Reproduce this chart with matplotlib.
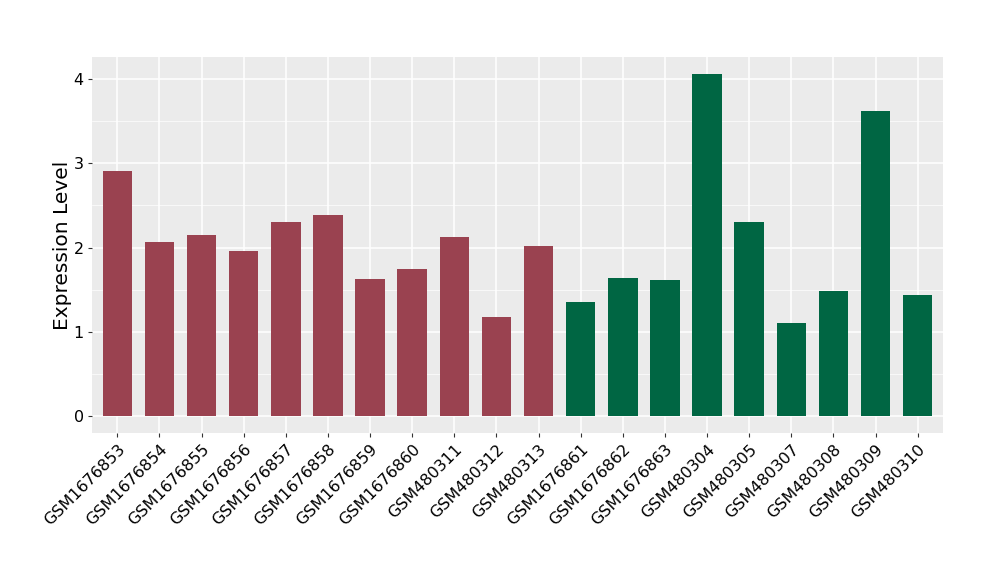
import numpy as np
import matplotlib
matplotlib.use("Agg")
import matplotlib.pyplot as plt

samples = ["GSM1676853", "GSM1676854", "GSM1676855", "GSM1676856", "GSM1676857",
           "GSM1676858", "GSM1676859", "GSM1676860", "GSM480311", "GSM480312",
           "GSM480313", "GSM1676861", "GSM1676862", "GSM1676863", "GSM480304",
           "GSM480305", "GSM480307", "GSM480308", "GSM480309", "GSM480310"]
values = [2.91, 2.06, 2.15, 1.96, 2.30, 2.39, 1.63, 1.74, 2.12, 1.17,
          2.02, 1.35, 1.64, 1.62, 4.06, 2.30, 1.10, 1.48, 3.62, 1.44]
groups = ["a"] * 11 + ["b"] * 9
group_colors = {"a": "#9A4250", "b": "#006643"}

fig = plt.figure(figsize=(10, 5.8), dpi=100)
ax = fig.add_axes([0.092, 0.2534, 0.851, 0.6483])
ax.set_facecolor("#EBEBEB")

x = np.arange(len(samples))
ax.bar(x, values, width=0.7, color=[group_colors[g] for g in groups], zorder=3)

ymax = max(values)
pad = ymax * 0.05
ax.set_ylim(-pad, ymax + pad)
ax.set_xlim(-0.6, len(samples) - 0.4)

ax.set_yticks([0, 1, 2, 3, 4])
ax.set_yticks([0.5, 1.5, 2.5, 3.5], minor=True)
ax.set_xticks(x)
ax.set_xticklabels(samples, rotation=45, ha="right", rotation_mode="anchor", fontsize=11.5)
ax.tick_params(axis="y", labelsize=11.5)
ax.tick_params(axis="both", which="major", length=3, color="#333333", pad=3)
ax.tick_params(axis="y", which="minor", length=0)

ax.grid(True, which="major", color="white", linewidth=1.1, zorder=0)
ax.grid(True, which="minor", axis="y", color="white", linewidth=0.5, zorder=0)
for s in ax.spines.values():
    s.set_visible(False)

ax.set_ylabel("Expression Level", fontsize=14.5, labelpad=1)

fig.savefig("out.png", dpi=100)
